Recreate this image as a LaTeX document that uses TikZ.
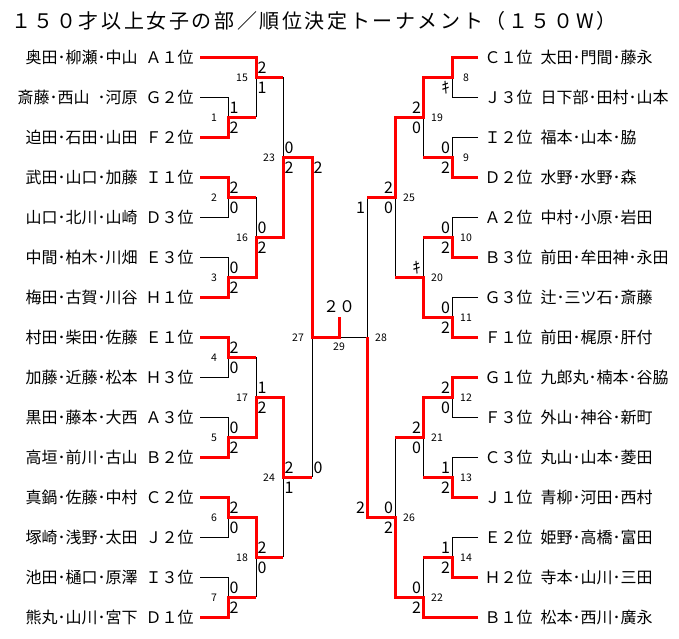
\documentclass[tikz,border=0pt]{standalone}
\usepackage{fontspec}
\setmainfont{Noto Sans CJK JP}
\newfontfamily\titlefont{Noto Sans CJK JP}[LetterSpace=13]
\newcommand{\tgap}{\hspace{0.5em}}

\begin{document}
\begin{tikzpicture}[x=1pt, y=-1pt,
  win/.style={red, line width=3pt},
  lose/.style={black, line width=0.9pt},
  team/.style={inner xsep=0pt, inner ysep=1pt, outer xsep=6.5pt, font=\fontsize{16}{16}\selectfont},
  lteam/.style={team, anchor=east},
  rteam/.style={team, anchor=west},
  score/.style={inner sep=0pt, font=\fontsize{16}{16}\selectfont},
  num/.style={inner sep=0pt, font=\fontsize{10.5}{10.5}\selectfont},
  lt/.style={score, xshift=6pt, yshift=9pt},
  lb/.style={score, xshift=6pt, yshift=-11pt},
  rt/.style={score, xshift=-6.5pt, yshift=9pt},
  rb/.style={score, xshift=-6.5pt, yshift=-11pt},
  ln/.style={num, xshift=-14pt, yshift=-1pt},
  rn/.style={num, xshift=14pt, yshift=-1pt}]

  \useasboundingbox (0,0) rectangle (679,638);

  % Title
  \node[anchor=west, inner sep=0pt, font=\titlefont\fontsize{20}{20}\selectfont] (title) at (11,21)
    {１５０才以上女子の部／順位決定トーナメント（１５０W）};

  % Teams, left half
  \node[lteam] (L1)  at (200, 57) {奥田･柳瀬･中山\tgap Ａ１位};
  \node[lteam] (L2)  at (200, 97) {斎藤･西山\tgap ･河原\tgap Ｇ２位};
  \node[lteam] (L3)  at (200,137) {迫田･石田･山田\tgap Ｆ２位};
  \node[lteam] (L4)  at (200,177) {武田･山口･加藤\tgap Ｉ１位};
  \node[lteam] (L5)  at (200,217) {山口･北川･山崎\tgap Ｄ３位};
  \node[lteam] (L6)  at (200,257) {中間･柏木･川畑\tgap Ｅ３位};
  \node[lteam] (L7)  at (200,297) {梅田･古賀･川谷\tgap Ｈ１位};
  \node[lteam] (L8)  at (200,337) {村田･柴田･佐藤\tgap Ｅ１位};
  \node[lteam] (L9)  at (200,377) {加藤･近藤･松本\tgap Ｈ３位};
  \node[lteam] (L10) at (200,417) {黒田･藤本･大西\tgap Ａ３位};
  \node[lteam] (L11) at (200,457) {高垣･前川･古山\tgap Ｂ２位};
  \node[lteam] (L12) at (200,497) {真鍋･佐藤･中村\tgap Ｃ２位};
  \node[lteam] (L13) at (200,537) {塚崎･浅野･太田\tgap Ｊ２位};
  \node[lteam] (L14) at (200,577) {池田･樋口･原澤\tgap Ｉ３位};
  \node[lteam] (L15) at (200,617) {熊丸･山川･宮下\tgap Ｄ１位};

  % Teams, right half
  \node[rteam] (R1)  at (478, 57) {Ｃ１位\tgap 太田･門間･藤永};
  \node[rteam] (R2)  at (478, 97) {Ｊ３位\tgap 日下部･田村･山本};
  \node[rteam] (R3)  at (478,137) {Ｉ２位\tgap 福本･山本･脇};
  \node[rteam] (R4)  at (478,177) {Ｄ２位\tgap 水野･水野･森};
  \node[rteam] (R5)  at (478,217) {Ａ２位\tgap 中村･小原･岩田};
  \node[rteam] (R6)  at (478,257) {Ｂ３位\tgap 前田･牟田神･永田};
  \node[rteam] (R7)  at (478,297) {Ｇ３位\tgap 辻･三ツ石･斎藤};
  \node[rteam] (R8)  at (478,337) {Ｆ１位\tgap 前田･梶原･肝付};
  \node[rteam] (R9)  at (478,377) {Ｇ１位\tgap 九郎丸･楠本･谷脇};
  \node[rteam] (R10) at (478,417) {Ｆ３位\tgap 外山･神谷･新町};
  \node[rteam] (R11) at (478,457) {Ｃ３位\tgap 丸山･山本･菱田};
  \node[rteam] (R12) at (478,497) {Ｊ１位\tgap 青柳･河田･西村};
  \node[rteam] (R13) at (478,537) {Ｅ２位\tgap 姫野･高橋･富田};
  \node[rteam] (R14) at (478,577) {Ｈ２位\tgap 寺本･山川･三田};
  \node[rteam] (R15) at (478,617) {Ｂ１位\tgap 松本･西川･廣永};

  % Match points, left half
  \coordinate (m1)  at (228,117);
  \coordinate (m2)  at (228,197);
  \coordinate (m3)  at (228,277);
  \coordinate (m4)  at (228,357);
  \coordinate (m5)  at (228,437);
  \coordinate (m6)  at (228,517);
  \coordinate (m7)  at (228,597);
  \coordinate (m15) at (256, 77);
  \coordinate (m16) at (256,237);
  \coordinate (m17) at (256,397);
  \coordinate (m18) at (256,557);
  \coordinate (m23) at (283,157);
  \coordinate (m24) at (283,477);
  \coordinate (m27) at (312,337);

  % Match points, right half
  \coordinate (m8)  at (452, 77);
  \coordinate (m9)  at (452,157);
  \coordinate (m10) at (452,237);
  \coordinate (m11) at (452,317);
  \coordinate (m12) at (452,397);
  \coordinate (m13) at (452,477);
  \coordinate (m14) at (452,557);
  \coordinate (m19) at (423,117);
  \coordinate (m20) at (423,277);
  \coordinate (m21) at (423,437);
  \coordinate (m22) at (423,597);
  \coordinate (m25) at (395,197);
  \coordinate (m26) at (395,517);
  \coordinate (m28) at (367,337);

  % Final
  \coordinate (m29)   at (339,337);
  \coordinate (champ) at (339,317);

  % Losing legs (black)
  \draw[lose] (L2.east) -| (m1);
  \draw[lose] (L5.east) -| (m2);
  \draw[lose] (L6.east) -| (m3);
  \draw[lose] (L9.east) -| (m4);
  \draw[lose] (L10.east) -| (m5);
  \draw[lose] (L13.east) -| (m6);
  \draw[lose] (L14.east) -| (m7);
  \draw[lose] (m1 -| m15) -- (m15);
  \draw[lose] (m2 -| m16) -- (m16);
  \draw[lose] (m4 -| m17) -- (m17);
  \draw[lose] (m7 -| m18) -- (m18);
  \draw[lose] (m15 -| m23) -- (m23);
  \draw[lose] (m18 -| m24) -- (m24);
  \draw[lose] (m24 -| m27) -- (m27);

  \draw[lose] (R2.west) -| (m8);
  \draw[lose] (R3.west) -| (m9);
  \draw[lose] (R5.west) -| (m10);
  \draw[lose] (R7.west) -| (m11);
  \draw[lose] (R10.west) -| (m12);
  \draw[lose] (R11.west) -| (m13);
  \draw[lose] (R13.west) -| (m14);
  \draw[lose] (m9 -| m19) -- (m19);
  \draw[lose] (m10 -| m20) -- (m20);
  \draw[lose] (m13 -| m21) -- (m21);
  \draw[lose] (m14 -| m22) -- (m22);
  \draw[lose] (m20 -| m25) -- (m25);
  \draw[lose] (m21 -| m26) -- (m26);
  \draw[lose] (m25 -| m28) -- (m28);
  \draw[lose] (m28) -- (m29);

  % Winning legs (red)
  \draw[win] (L3.east) -| (m1) -- (m1 -| m15);
  \draw[win] (L4.east) -| (m2) -- (m2 -| m16);
  \draw[win] (L7.east) -| (m3) -- (m3 -| m16);
  \draw[win] (L8.east) -| (m4) -- (m4 -| m17);
  \draw[win] (L11.east) -| (m5) -- (m5 -| m17);
  \draw[win] (L12.east) -| (m6) -- (m6 -| m18);
  \draw[win] (L15.east) -| (m7) -- (m7 -| m18);
  \draw[win] (L1.east) -| (m15) -- (m15 -| m23);
  \draw[win] (m3) -| (m16) -- (m16 -| m23);
  \draw[win] (m5) -| (m17) -- (m17 -| m24);
  \draw[win] (m6) -| (m18) -- (m18 -| m24);
  \draw[win] (m16) -| (m23) -- (m23 -| m27);
  \draw[win] (m17) -| (m24) -- (m24 -| m27);
  \draw[win] (m23) -| (m27) -- (m29) -- (champ);

  \draw[win] (R1.west) -| (m8) -- (m8 -| m19);
  \draw[win] (R4.west) -| (m9) -- (m9 -| m19);
  \draw[win] (R6.west) -| (m10) -- (m10 -| m20);
  \draw[win] (R8.west) -| (m11) -- (m11 -| m20);
  \draw[win] (R9.west) -| (m12) -- (m12 -| m21);
  \draw[win] (R12.west) -| (m13) -- (m13 -| m21);
  \draw[win] (R14.west) -| (m14) -- (m14 -| m22);
  \draw[win] (m8) -| (m19) -- (m19 -| m25);
  \draw[win] (m11) -| (m20) -- (m20 -| m25);
  \draw[win] (m12) -| (m21) -- (m21 -| m26);
  \draw[win] (R15.west) -| (m22) -- (m22 -| m26);
  \draw[win] (m19) -| (m25) -- (m25 -| m28);
  \draw[win] (m22) -| (m26) -- (m26 -| m28);
  \draw[win] (m26) -| (m28);

  % Scores and match numbers, left half
  \node[lt] (s1t)  at (m1)  {1}; \node[lb] (s1b)  at (m1)  {2}; \node[ln] (n1)  at (m1)  {1};
  \node[lt] (s2t)  at (m2)  {2}; \node[lb] (s2b)  at (m2)  {0}; \node[ln] (n2)  at (m2)  {2};
  \node[lt] (s3t)  at (m3)  {0}; \node[lb] (s3b)  at (m3)  {2}; \node[ln] (n3)  at (m3)  {3};
  \node[lt] (s4t)  at (m4)  {2}; \node[lb] (s4b)  at (m4)  {0}; \node[ln] (n4)  at (m4)  {4};
  \node[lt] (s5t)  at (m5)  {0}; \node[lb] (s5b)  at (m5)  {2}; \node[ln] (n5)  at (m5)  {5};
  \node[lt] (s6t)  at (m6)  {2}; \node[lb] (s6b)  at (m6)  {0}; \node[ln] (n6)  at (m6)  {6};
  \node[lt] (s7t)  at (m7)  {0}; \node[lb] (s7b)  at (m7)  {2}; \node[ln] (n7)  at (m7)  {7};
  \node[lt] (s15t) at (m15) {2}; \node[lb] (s15b) at (m15) {1}; \node[ln] (n15) at (m15) {15};
  \node[lt] (s16t) at (m16) {0}; \node[lb] (s16b) at (m16) {2}; \node[ln] (n16) at (m16) {16};
  \node[lt] (s17t) at (m17) {1}; \node[lb] (s17b) at (m17) {2}; \node[ln] (n17) at (m17) {17};
  \node[lt] (s18t) at (m18) {2}; \node[lb] (s18b) at (m18) {0}; \node[ln] (n18) at (m18) {18};
  \node[lt] (s23t) at (m23) {0}; \node[lb] (s23b) at (m23) {2}; \node[ln] (n23) at (m23) {23};
  \node[lt] (s24t) at (m24) {2}; \node[lb] (s24b) at (m24) {1}; \node[ln] (n24) at (m24) {24};
  \node[lb] (s27t) at (m23 -| m27) {2}; \node[lt] (s27b) at (m24 -| m27) {0};
  \node[ln] (n27) at (m27) {27};

  % Scores and match numbers, right half
  \node[rb] (s8b)  at (m8)  {ｷ}; \node[rn] (n8)  at (m8)  {8};
  \node[rt] (s9t)  at (m9)  {0}; \node[rb] (s9b)  at (m9)  {2}; \node[rn] (n9)  at (m9)  {9};
  \node[rt] (s10t) at (m10) {0}; \node[rb] (s10b) at (m10) {2}; \node[rn] (n10) at (m10) {10};
  \node[rt] (s11t) at (m11) {0}; \node[rb] (s11b) at (m11) {2}; \node[rn] (n11) at (m11) {11};
  \node[rt] (s12t) at (m12) {2}; \node[rb] (s12b) at (m12) {0}; \node[rn] (n12) at (m12) {12};
  \node[rt] (s13t) at (m13) {1}; \node[rb] (s13b) at (m13) {2}; \node[rn] (n13) at (m13) {13};
  \node[rt] (s14t) at (m14) {1}; \node[rb] (s14b) at (m14) {2}; \node[rn] (n14) at (m14) {14};
  \node[rt] (s19t) at (m19) {2}; \node[rb] (s19b) at (m19) {0}; \node[rn] (n19) at (m19) {19};
  \node[rt] (s20t) at (m20) {ｷ}; \node[rn] (n20) at (m20) {20};
  \node[rt] (s21t) at (m21) {2}; \node[rb] (s21b) at (m21) {0}; \node[rn] (n21) at (m21) {21};
  \node[rt] (s22t) at (m22) {0}; \node[rb] (s22b) at (m22) {2}; \node[rn] (n22) at (m22) {22};
  \node[rt] (s25t) at (m25) {2}; \node[rb] (s25b) at (m25) {0}; \node[rn] (n25) at (m25) {25};
  \node[rt] (s26t) at (m26) {0}; \node[rb] (s26b) at (m26) {2}; \node[rn] (n26) at (m26) {26};
  \node[rb] (s28t) at (m25 -| m28) {1}; \node[rt] (s28b) at (m26 -| m28) {2};
  \node[rn] (n28) at (m28) {28};

  % Final
  \node[num, yshift=-10pt] (n29) at (m29) {29};
  \node[score, yshift=30pt] (s29) at (m29) {２０};

\end{tikzpicture}
\end{document}
